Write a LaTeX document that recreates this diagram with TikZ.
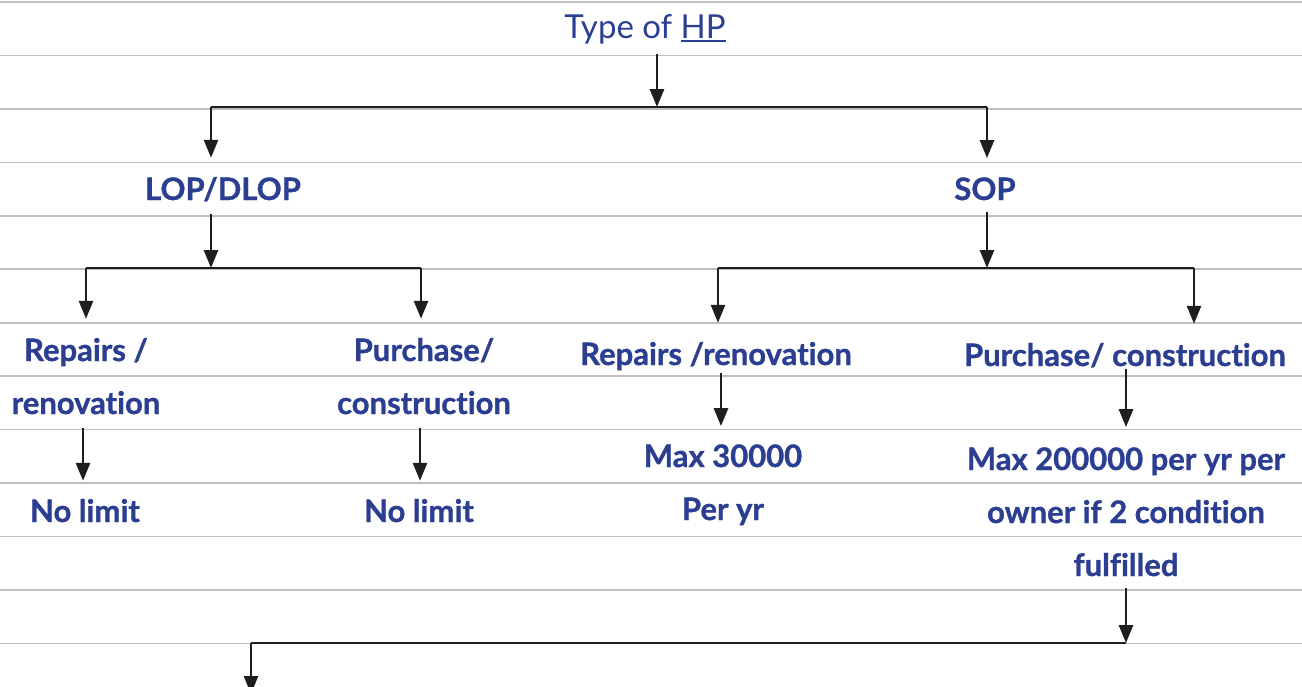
\documentclass[tikz,border=0pt]{standalone}
\usepackage{fontspec}
\setmainfont{Lato}[Ligatures=NoCommon,BoldFeatures={FakeBold=1}]
\usetikzlibrary{arrows.meta,positioning}
\definecolor{hpblue}{HTML}{2B3E92}
\definecolor{rulegray}{HTML}{BEBEBE}
\definecolor{linkblack}{HTML}{1E1E1E}
\newcommand{\hpline}[1]{{\setbox0\hbox{#1}\rlap{\rule[-4pt]{\wd0}{1.8pt}}\box0}}

\begin{document}
\begin{tikzpicture}[x=1pt,y=-1pt,
	ruled/.style={rulegray,line width=1.6pt},
	head/.style={text=hpblue,font=\fontsize{31}{53}\selectfont\bfseries,align=center,anchor=base,inner sep=2pt},
	bar/.style={linkblack,line width=2.8pt},
	arr/.style={linkblack,line width=2.8pt,-{Triangle[width=14pt,length=18pt]}}]
	\useasboundingbox (0,0) rectangle (1302,686);
	\foreach \r in {0,...,12}
		\draw[ruled] (0,2+53.45*\r) -- (1302,2+53.45*\r);

	% nodes (base = last line)
	\node[head,font=\fontsize{33}{40}\selectfont] (type) at (645,38) {Type of \hpline{HP}};
	\node[head] (lop) at (223,200) {LOP/DLOP};
	\node[head] (sop) at (985,200) {SOP};
	\node[head] (lrep) at (86,414) {Repairs /\\renovation};
	\node[head] (lpur) at (424,414) {Purchase/\\construction};
	\node[head] (lnone) at (85,522) {No limit};
	\node[head] (lntwo) at (419,522) {No limit};
	\node[head] (srep) at (716,365) {Repairs /renovation};
	\node[head] (smax) at (723,520) {Max 30000\\Per yr};
	\node[head] (spur) at (1125,366) {Purchase/ construction};
	\node[head] (sbig) at (1126,576) {Max 200000 per yr per\\owner if 2 condition\\fulfilled};

	% junctions
	\coordinate (jtop) at (657,107);
	\coordinate (jlop) at (211,107);
	\coordinate (jsop) at (987,107);
	\coordinate (llft) at (86,268);
	\coordinate (lrgt) at (421,268);
	\coordinate (slft) at (718,268);
	\coordinate (srgt) at (1194,268);
	\coordinate (xone) at (83,0);
	\coordinate (xtwo) at (420,0);
	\coordinate (xrep) at (721,0);
	\coordinate (jend) at (1126,643);
	\coordinate (jout) at (251,643);
	\coordinate (tail) at (251,694);

	% connectors
	\begin{scope}[shorten <=10pt]
		\draw[arr,shorten <=8pt] (type.south -| jtop) -- (jtop);
		\draw[arr] (lop.south -| jlop) -- (jlop |- llft);
		\draw[arr] (sop.south -| jsop) -- (jsop |- slft);
		\draw[arr] (sbig.south -| jend) -- (jend);
	\end{scope}
	\begin{scope}[shorten <=12pt,shorten >=16pt]
		\draw[arr] (lrep.south -| xone) -- (xone |- lnone.north);
		\draw[arr] (lpur.south -| xtwo) -- (xtwo |- lntwo.north);
		\draw[arr,shorten <=1pt] (srep.south -| xrep) -- (xrep |- smax.north);
		\draw[arr,shorten <=-1pt,shorten >=18pt] (spur.south -| jend) -- (jend |- sbig.north);
	\end{scope}
	\draw[bar] (jlop) -- (jsop);
	\draw[bar] (llft) -- (lrgt);
	\draw[bar] (slft) -- (srgt);
	\draw[bar] (jend) -- (jout);
	\begin{scope}[shorten >=17pt]
		\draw[arr] (jlop) -- (jlop |- lop.north);
		\draw[arr] (jsop) -- (jsop |- sop.north);
		\draw[arr] (llft) -- (llft |- lrep.north);
		\draw[arr] (lrgt) -- (lrgt |- lpur.north);
		\draw[arr] (slft) -- (slft |- srep.north);
		\draw[arr] (srgt) -- (srgt |- spur.north);
	\end{scope}
	\draw[arr] (jout) -- (tail);
\end{tikzpicture}
\end{document}
